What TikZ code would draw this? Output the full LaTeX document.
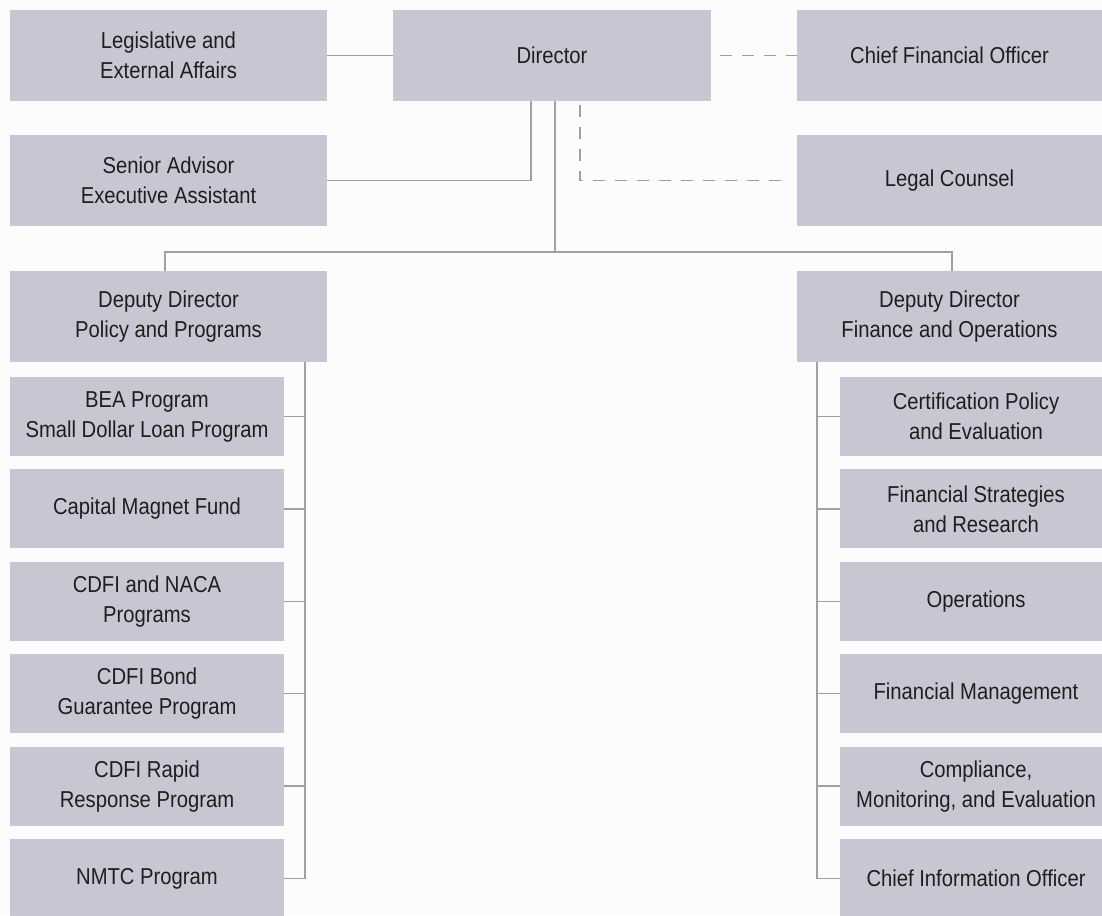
\documentclass[tikz,border=0pt]{standalone}
\usepackage{fontspec}
\setmainfont{Liberation Sans}[FakeStretch=0.88]
\usetikzlibrary{calc}
\definecolor{boxfill}{RGB}{199,199,211}
\definecolor{linec}{RGB}{160,160,160}
\definecolor{txt}{RGB}{30,30,30}
\begin{document}
\begin{tikzpicture}[x=1pt,y=-1pt,
  box/.style={rectangle,fill=boxfill,draw=none,inner sep=0pt,align=center,text=txt,
    font=\fontsize{23}{30}\selectfont},
  big/.style={box,minimum width=317pt,minimum height=91pt},
  edge/.style={box,minimum width=305pt,minimum height=91pt},
  kidl/.style={box,minimum width=274pt,minimum height=79pt},
  kidr/.style={box,minimum width=272pt,minimum height=79pt},
  conn/.style={draw=linec,line width=1.5pt},
  dconn/.style={draw=linec,line width=1.5pt,dash pattern=on 12pt off 10pt}]
\clip (0,0) rectangle (1102,915);
\fill[white!99!black] (0,0) rectangle (1102,915);
% top rows
\node[big] (leg) at (168.5,55.5) {Legislative and\\External Affairs};
\node[big] (sen) at (168.5,180.5) {Senior Advisor\\Executive Assistant};
\node[box,minimum width=318pt,minimum height=91pt] (dir) at (552,55.5) {Director};
\node[edge] (cfo) at (949.5,55.5) {Chief Financial Officer};
\node[edge] (legal) at (949.5,180.5) {Legal Counsel};
% deputies
\node[big] (ddl) at (168.5,316.5) {Deputy Director\\Policy and Programs};
\node[edge] (ddr) at (949.5,316.5) {Deputy Director\\Finance and Operations};
% left children
\node[kidl] (l1) at (147,416.5) {BEA Program\\Small Dollar Loan Program};
\node[kidl] (l2) at (147,508.9) {Capital Magnet Fund};
\node[kidl] (l3) at (147,601.3) {CDFI and NACA\\Programs};
\node[kidl] (l4) at (147,693.7) {CDFI Bond\\Guarantee Program};
\node[kidl] (l5) at (147,786.1) {CDFI Rapid\\Response Program};
\node[kidl] (l6) at (147,878.5) {NMTC Program};
% right children
\node[kidr] (r1) at (976,416.5) {Certification Policy\\and Evaluation};
\node[kidr] (r2) at (976,508.9) {Financial Strategies\\and Research};
\node[kidr] (r3) at (976,601.3) {Operations};
\node[kidr] (r4) at (976,693.7) {Financial Management};
\node[kidr] (r5) at (976,786.1) {Compliance,\\Monitoring, and Evaluation};
\node[kidr] (r6) at (976,878.5) {Chief Information Officer};
% connectors
\coordinate (bar) at (555,252);
\coordinate (spl) at (305,362);
\coordinate (spr) at (817,362);
\draw[conn] (leg) -- (dir);
\draw[conn] (sen.east) -| ([xshift=-21pt]dir.south);
\draw[conn] ([xshift=3pt]dir.south) -- (bar);
\draw[conn] ([xshift=-3.5pt]ddl.north) |- (bar) -| ([xshift=2.5pt]ddr.north);
\draw[dconn,shorten <=9pt] (dir.east) -- (cfo.west);
\draw[dconn,shorten <=4pt,shorten >=9pt] ([xshift=28pt]dir.south) |- (legal.west);
\draw[conn] (spl) |- (l6.east);
\foreach \n in {l1,l2,l3,l4,l5} {\draw[conn] (\n.east) -- (\n.east -| spl);}
\draw[conn] (spr) |- (r6.west);
\foreach \n in {r1,r2,r3,r4,r5} {\draw[conn] (\n.west) -- (\n.west -| spr);}
\end{tikzpicture}
\end{document}
